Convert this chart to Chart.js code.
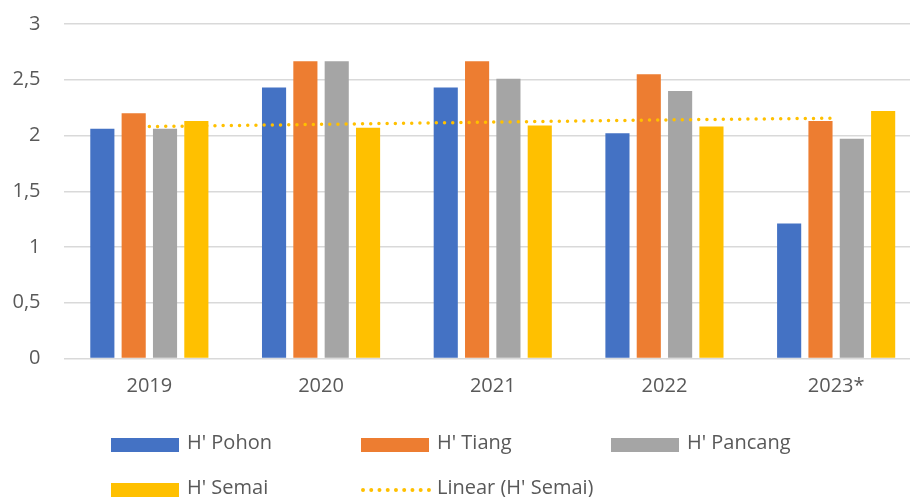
<!DOCTYPE html>
<html>
<head>
<meta charset="utf-8">
<script src="https://cdn.jsdelivr.net/npm/chart.js@4/dist/chart.umd.min.js"></script>
<style>
  body { margin: 0; background: #fff; }
  #wrap { position: relative; width: 910px; height: 497px; overflow: hidden; }
  #myChart { position: absolute; left: 0; top: -11px; }
  .lista { position: absolute; left: 0; top: 0; width: 910px; height: 497px; font-family: "Open Sans", sans-serif; font-size: 20px; color: #595959; }
  .item { position: absolute; height: 20px; }
  .sw { position: absolute; left: 0; width: 68px; height: 14px; top: 3px; }
  .dots { position: absolute; left: 0; width: 70px; top: 8px; height: 0; border-top: 4px dotted #ffc000; }
  .txt { position: absolute; left: 76px; top: -8px; white-space: nowrap; line-height: 30px; }
</style>
</head>
<body>
<div id="wrap">
  <canvas id="myChart" width="924" height="508"></canvas>
  <div class="lista"></div>
</div>
<script>
const tahun = ["2019", "2020", "2021", "2022", "2023*"];
const pohon = [2.06, 2.43, 2.43, 2.02, 1.21];
const tiang = [2.20, 2.665, 2.665, 2.55, 2.13];
const pancang = [2.06, 2.665, 2.51, 2.40, 1.97];
const semai = [2.13, 2.07, 2.09, 2.08, 2.22];
// garis tren linear (H' Semai)
const trenSemai = [2.08, 2.10, 2.12, 2.14, 2.155];
const yTicks = [0, 0.5, 1, 1.5, 2, 2.5, 3];

const warna = ["#4472c4", "#ed7d31", "#a5a5a5", "#ffc000"];
const teks = "#595959";

const data = {
  labels: tahun,
  datasets: [
    { type: "line", label: "Linear (H' Semai)", data: trenSemai, borderColor: "#ffc000", borderWidth: 3.5,
      borderDash: [0, 8.2], borderCapStyle: "round", pointRadius: 0, fill: false, order: 0 },
    { label: "H' Pohon", data: pohon, backgroundColor: warna[0], order: 1 },
    { label: "H' Tiang", data: tiang, backgroundColor: warna[1], order: 1 },
    { label: "H' Pancang", data: pancang, backgroundColor: warna[2], order: 1 },
    { label: "H' Semai", data: semai, backgroundColor: warna[3], order: 1 },
  ],
};

const config = {
  type: "bar",
  data,
  options: {
    responsive: false,
    animation: false,
    categoryPercentage: 0.73,
    barPercentage: 0.77,
    layout: { padding: { top: 1.5, right: 2, left: 0, bottom: 0 } },
    plugins: { legend: { display: false }, tooltip: { enabled: false } },
    scales: {
      y: {
        min: 0, max: 3,
        afterFit: (s) => { s.width = 63.5; },
        afterBuildTicks: (s) => { s.ticks = yTicks.map((v) => ({ value: v })); },
        ticks: { padding: 23, color: teks, font: { family: "Open Sans", size: 20 },
          callback: (v) => String(v).replace(".", ",") },
        grid: { color: "#d9d9d9", lineWidth: 1.5, drawTicks: false },
        border: { display: false },
      },
      x: {
        afterFit: (s) => { s.height = 138.5; },
        ticks: { padding: 16, color: teks, font: { family: "Open Sans", size: 20 } },
        grid: { display: false, drawTicks: false },
        border: { display: false },
      },
    },
  },
};

var myChart = new Chart(document.getElementById("myChart"), config);

function dibujaLista() {
  const pos = [[111, 435], [361, 435], [611, 435], [111, 480], [361, 480]];
  const items = [
    { t: "H' Pohon", c: warna[0] },
    { t: "H' Tiang", c: warna[1] },
    { t: "H' Pancang", c: warna[2] },
    { t: "H' Semai", c: warna[3] },
    { t: "Linear (H' Semai)", dots: true },
  ];
  let html = "";
  items.forEach((it, i) => {
    html += '<div class="item" style="left:' + pos[i][0] + 'px;top:' + pos[i][1] + 'px">';
    if (it.dots) html += '<div class="dots"></div>';
    else html += '<div class="sw" style="background:' + it.c + '"></div>';
    html += '<span class="txt">' + it.t + "</span></div>";
  });
  document.querySelector(".lista").innerHTML = html;
}
dibujaLista();
</script>
</body>
</html>
